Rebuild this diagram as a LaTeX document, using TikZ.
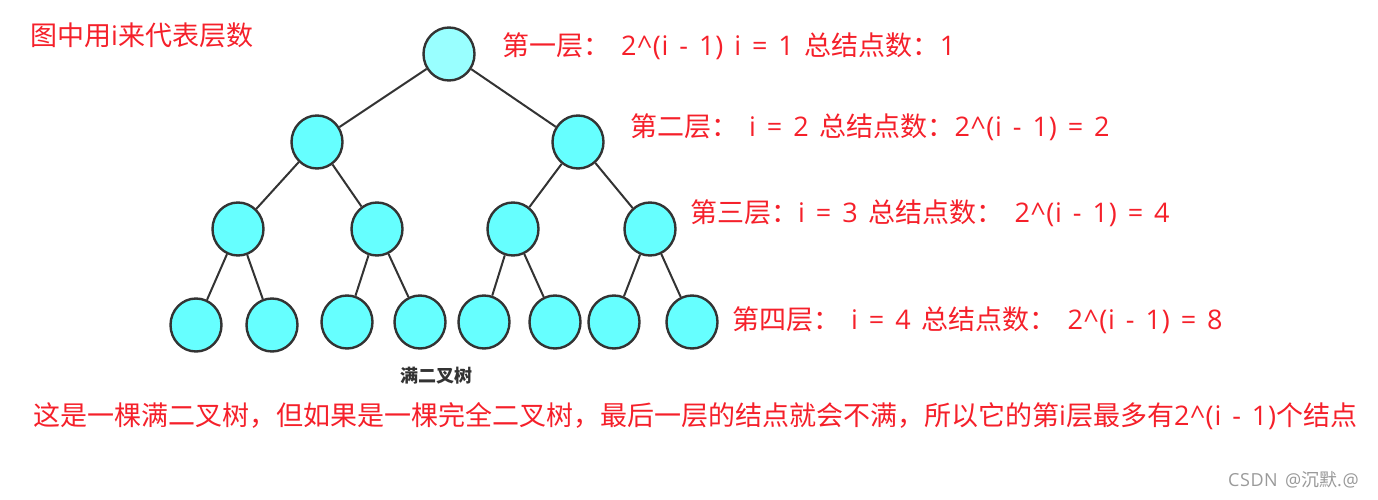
\documentclass[tikz,border=0pt]{standalone}
\usepackage{fontspec}
\setmainfont{Noto Sans CJK SC}
\newfontfamily\latinf[LetterSpace=3,WordSpace=1.4]{Open Sans}
\newcommand{\lat}[1]{{\latinf #1}}
\usetikzlibrary{shapes.geometric}
\definecolor{nodecyan}{HTML}{66FFFF}
\definecolor{rootcyan}{HTML}{99FFFF}
\definecolor{edgegray}{HTML}{333333}
\definecolor{notered}{HTML}{F5202A}
\definecolor{markgray}{HTML}{9A9A9A}

\begin{document}
\begin{tikzpicture}[
  x=1pt, y=-1pt,
  tn/.style={ellipse, draw=edgegray, line width=2.4pt, fill=nodecyan,
             minimum width=51pt, minimum height=53pt, inner sep=0pt},
  link/.style={draw=edgegray, line width=2pt},
  note/.style={text=notered, anchor=west, inner sep=0pt,
               font=\fontsize{27}{31}\selectfont}
]
\useasboundingbox (0,0) rectangle (1378,500);

%% ---- tree -----------------------------------------------------------------
\node[tn, fill=rootcyan] (root) at (449,54) {};
\node[tn] (b1) at (317,142) {};
\node[tn] (b2) at (578,142) {};
\node[tn] (c1) at (238,229) {};
\node[tn] (c2) at (377,229) {};
\node[tn] (c3) at (513,229) {};
\node[tn] (c4) at (650,229) {};
\node[tn] (d1) at (196,325) {};
\node[tn] (d2) at (272,325) {};
\node[tn] (d3) at (347,322) {};
\node[tn] (d4) at (420,322) {};
\node[tn] (d5) at (484,322) {};
\node[tn] (d6) at (555,322) {};
\node[tn] (d7) at (614,322) {};
\node[tn] (d8) at (692,322) {};

\draw[link] (root) -- (b1);
\draw[link] (root) -- (b2);
\draw[link] (b1) -- (c1);
\draw[link] (b1) -- (c2);
\draw[link] (b2) -- (c3);
\draw[link] (b2) -- (c4);
\draw[link] (c1) -- (d1);
\draw[link] (c1) -- (d2);
\draw[link] (c2) -- (d3);
\draw[link] (c2) -- (d4);
\draw[link] (c3) -- (d5);
\draw[link] (c3) -- (d6);
\draw[link] (c4) -- (d7);
\draw[link] (c4) -- (d8);

\node[font=\fontsize{18}{20}\selectfont\bfseries, text=edgegray, inner sep=0pt]
  (title) at (436,376) {满二叉树};

%% ---- level notes ----------------------------------------------------------
\node[note] (head) at (30,35) {图中用\lat{i}来代表层数};
\node[note] (lv1) at (502,46)
  {第一层：\lat{ 2\^{}(i - 1) i = 1 }总结点数：\lat{1}};
\node[note] (lv2) at (630,127)
  {第二层：\lat{ i = 2 }总结点数：\lat{2\^{}(i - 1) = 2}};
\node[note] (lv3) at (690,213)
  {第三层：\lat{i = 3 }总结点数：\lat{ 2\^{}(i - 1) = 4}};
\node[note] (lv4) at (732,320)
  {第四层：\lat{ i = 4 }总结点数：\lat{ 2\^{}(i - 1) = 8}};
\node[note] (foot) at (33,416)
  {这是一棵满二叉树，但如果是一棵完全二叉树，最后一层的结点就会不满，所以它的第\lat{i}层最多有\lat{2\^{}(i - 1)}个结点};

\node[text=markgray, anchor=west, inner sep=0pt, font=\fontsize{18}{20}\selectfont]
  (mark) at (1228,480) {\lat{CSDN @}沉默\lat{.@}};
\end{tikzpicture}
\end{document}
